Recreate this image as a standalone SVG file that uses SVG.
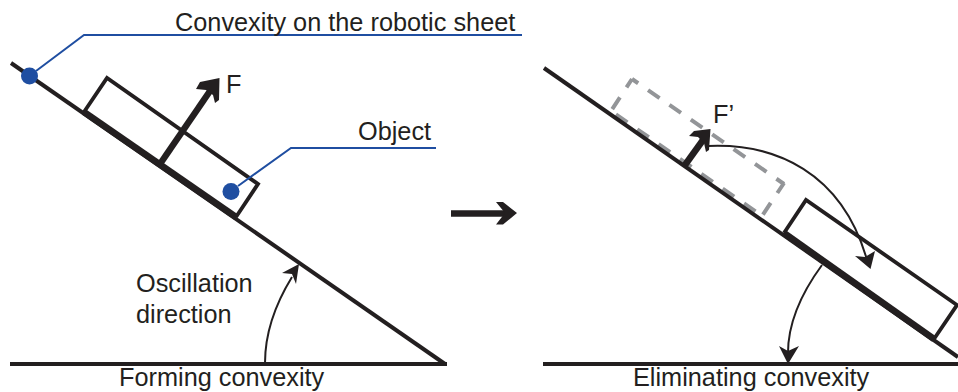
<svg xmlns="http://www.w3.org/2000/svg" width="958" height="392" viewBox="0 0 958 392">
<style>
.k{fill:none;stroke:#231f20;stroke-width:4}
.k3{fill:none;stroke:#231f20;stroke-width:3.800}
.thick{fill:none;stroke:#231f20;stroke-width:6.500}
.thin{fill:none;stroke:#231f20;stroke-width:2}
.blue{fill:none;stroke:#1f4ea1;stroke-width:2}
.dot{fill:#1f4ea1}
.dash{fill:none;stroke:#939598;stroke-width:4;stroke-dasharray:14 12}
.head{fill:#231f20}
text{font-family:"Liberation Sans",Arial,sans-serif;font-size:25.300px;fill:#231f20}
</style>
<g id="ghost-object"><path class="dash" stroke-dashoffset="6.500" d="M632 79L784 184"/><path class="dash" stroke-dashoffset="4" d="M632 79L611 111"/><path class="dash" stroke-dashoffset="2" d="M784 183L762 216"/><path class="dash" stroke-dashoffset="20" d="M611 111L762 216"/></g>
<g id="left-slope"><path class="k" d="M11 63L445 364"/><path class="k" d="M10 364H447"/></g>
<g id="object-left"><path class="k3" d="M84 112L107 78L258 184L236 217"/><path class="thick" d="M84 112L236 217"/></g>
<g id="right-slope"><path class="k" d="M544 68L958 357"/><path class="k" d="M543 364H958"/></g>
<g id="object-right"><path class="k3" d="M784 233L806 200L957 305L934 339"/><path class="thick" d="M784 233L934 339"/></g>
<g id="connectors">
<path class="blue" d="M36 71L84 35H522"/>
<path class="blue" d="M238 186L291 148H436"/>
<path class="thick" d="M160 164L210 91"/>
<path class="head" d="M219.500 78L200 82L196 89L206 90L213 95L215 103L219 100Z"/>
<path class="thick" d="M685 165L703 140"/>
<path class="head" d="M710.500 129L694 131L689 136L698 137L704 143L706 152L709 150Z"/>
<path class="thick" d="M451 213.500H509"/>
<path class="head" d="M517 213L503 202H496L505 213L496 224.500H503Z"/>
<path class="thin" d="M265 363C265 330 276 303 292 277"/>
<path class="head" d="M299 264L296 284L292 274L282 273Z"/>
<path class="thin" d="M708 146C775 143 842 172 867 260"/>
<path class="head" d="M870.500 269L855 256L865 257L875 251Z"/>
<path class="thin" d="M822 265C800 295 788 325 788 353"/>
<path class="head" d="M788 364L779 346L788 351L799 346Z"/>
</g>
<g id="dot-convexity"><circle class="dot" cx="29.500" cy="76" r="8.500"/></g>
<g id="dot-object"><circle class="dot" cx="231" cy="191.500" r="8.500"/></g>
<g id="labels">
<text x="175" y="31">Convexity on the robotic sheet</text>
<text x="226" y="93">F</text>
<text x="358" y="140">Object</text>
<text x="136" y="292">Oscillation</text>
<text x="136" y="323">direction</text>
<text x="119" y="386">Forming convexity</text>
<text x="713" y="123">F’</text>
<text x="633" y="386">Eliminating convexity</text>
</g>
</svg>
